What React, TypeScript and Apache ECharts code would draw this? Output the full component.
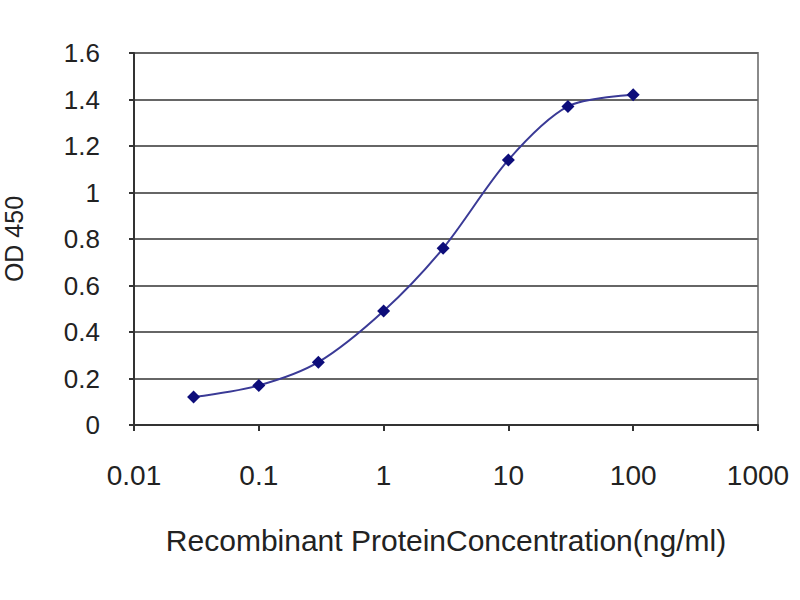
import { useEffect, useRef } from "react"
import * as echarts from "echarts"

// concentration (ng/ml) and OD 450 readings
const concentrations = [0.03, 0.1, 0.3, 1, 3, 10, 30, 100]
const odValues = [0.12, 0.17, 0.27, 0.49, 0.76, 1.14, 1.37, 1.42]

const xName = "Recombinant ProteinConcentration(ng/ml)"
const yName = "OD 450"

const FONT = "'Liberation Sans', Arial, sans-serif"

export default function App() {
  const chartRef = useRef<HTMLDivElement>(null)

  useEffect(() => {
    document.body.style.margin = "0"
    if (!chartRef.current) return
    const chart = echarts.init(chartRef.current, null, { renderer: "svg" })

    chart.setOption({
      animation: false,
      backgroundColor: "#fff",
      grid: {
        left: 134,
        right: 42,
        top: 53,
        bottom: 175,
        containLabel: false,
        outerBoundsMode: "none",
        show: true,
        borderColor: "#8a8a8a",
        borderWidth: 2,
      },
      xAxis: {
        type: "log",
        logBase: 10,
        min: 0.01,
        max: 1000,
        name: xName,
        nameLocation: "middle",
        nameGap: 100,
        nameTextStyle: { fontFamily: FONT, fontSize: 30, color: "#222" },
        axisLine: { show: true, lineStyle: { color: "#333", width: 2 } },
        axisTick: { show: true, length: 6, lineStyle: { color: "#333", width: 2 } },
        minorTick: { show: false },
        splitLine: { show: false },
        axisLabel: {
          fontFamily: FONT,
          fontSize: 28,
          color: "#222",
          margin: 36,
          formatter: (v: number) => String(Number(v.toPrecision(6))),
        },
      },
      yAxis: {
        type: "value",
        min: 0,
        max: 1.6,
        interval: 0.2,
        name: yName,
        nameLocation: "middle",
        nameGap: 108,
        nameTextStyle: { fontFamily: FONT, fontSize: 25, color: "#222" },
        axisLine: { show: true, lineStyle: { color: "#333", width: 2 } },
        axisTick: { show: true, length: 5, lineStyle: { color: "#333", width: 2 } },
        splitLine: { show: true, lineStyle: { color: "#666", width: 2 } },
        axisLabel: {
          fontFamily: FONT,
          fontSize: 26,
          color: "#222",
          margin: 34,
          formatter: (v: number) => String(Number(v.toFixed(1))),
        },
      },
      series: [
        {
          type: "line",
          data: concentrations.map((c, i) => [c, odValues[i]]),
          smooth: 0.3,
          symbol: "diamond",
          symbolSize: 13,
          itemStyle: { color: "#0d0d7a" },
          lineStyle: { color: "#3a3a96", width: 2 },
        },
      ],
    })

    return () => chart.dispose()
  }, [])

  return <div ref={chartRef} style={{ width: 800, height: 600 }} />
}
